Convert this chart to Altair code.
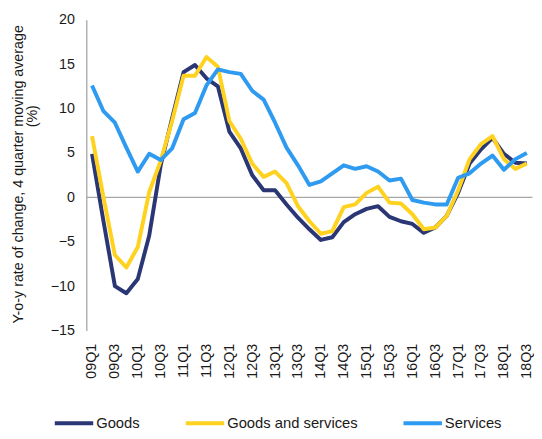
import altair as alt
import pandas as pd

QUARTERS = [
    "09Q1", "09Q2", "09Q3", "09Q4", "10Q1", "10Q2", "10Q3", "10Q4",
    "11Q1", "11Q2", "11Q3", "11Q4", "12Q1", "12Q2", "12Q3", "12Q4",
    "13Q1", "13Q2", "13Q3", "13Q4", "14Q1", "14Q2", "14Q3", "14Q4",
    "15Q1", "15Q2", "15Q3", "15Q4", "16Q1", "16Q2", "16Q3", "16Q4",
    "17Q1", "17Q2", "17Q3", "17Q4", "18Q1", "18Q2", "18Q3",
]
TICK_LABELS = [
    "09Q1", "09Q3", "10Q1", "10Q3", "11Q1", "11Q3", "12Q1", "12Q3",
    "13Q1", "13Q3", "14Q1", "14Q3", "15Q1", "15Q3", "16Q1", "16Q3",
    "17Q1", "17Q3", "18Q1", "18Q3",
]
GOODS = [
    4.9, -2.7, -10.0, -10.8, -9.2, -4.3, 3.6, 8.9,
    14.1, 14.9, 13.4, 12.5, 7.4, 5.5, 2.5, 0.8,
    0.8, -0.8, -2.3, -3.6, -4.8, -4.5, -2.8, -1.9,
    -1.3, -1.0, -2.2, -2.7, -3.0, -4.0, -3.4, -2.1,
    0.5, 3.8, 5.4, 6.7, 4.9, 3.9, 3.8,
]
GOODS_AND_SERVICES = [
    6.9, 0.0, -6.5, -7.9, -5.6, 0.6, 4.1, 8.6,
    13.7, 13.7, 15.8, 14.7, 8.6, 6.6, 3.8, 2.3,
    2.9, 1.6, -1.0, -2.7, -4.1, -3.8, -1.1, -0.8,
    0.5, 1.2, -0.6, -0.7, -1.9, -3.6, -3.4, -2.1,
    0.8, 4.3, 6.0, 6.9, 4.3, 3.2, 3.8,
]
SERVICES = [
    12.6, 9.7, 8.4, 5.6, 2.9, 4.9, 4.2, 5.5,
    8.8, 9.5, 12.6, 14.4, 14.1, 13.9, 12.0, 11.0,
    8.4, 5.6, 3.6, 1.4, 1.8, 2.7, 3.6, 3.2,
    3.5, 2.9, 1.9, 2.1, -0.3, -0.6, -0.8, -0.8,
    2.2, 2.7, 3.8, 4.7, 3.1, 4.3, 5.0,
]
SERIES_NAMES = ["Goods", "Goods and services", "Services"]
COLORS = ["#2B3674", "#FFD21F", "#2E9BF0"]
Y_TICKS = [-15, -10, -5, 0, 5, 10, 15, 20]
Y_TITLE_LINES = ["Y-o-y rate of change, 4 quarter moving average", "(%)"]

rows = []
for name, vals in zip(SERIES_NAMES, [GOODS, GOODS_AND_SERVICES, SERVICES]):
    for q, v in zip(QUARTERS, vals):
        rows.append({"quarter": q, "value": v, "series": name})
df = pd.DataFrame(rows)

FONT = "Liberation Sans"
TXT = "#1a1a1a"
AXIS_GREY = "#A6A6A6"

x_enc = alt.X(
    "quarter:O",
    sort=QUARTERS,
    scale=alt.Scale(type="point", padding=0.5),
    axis=alt.Axis(
        values=TICK_LABELS, title=None, domain=False, ticks=False,
        labelAngle=270, labelPadding=13, labelFontSize=14.5,
        labelColor=TXT, labelFont=FONT,
    ),
)
y_enc = alt.Y(
    "value:Q",
    scale=alt.Scale(domain=[-15, 20], nice=False, zero=False),
    axis=alt.Axis(
        values=Y_TICKS, title=Y_TITLE_LINES[0], titleX=-68.5, titleY=156.5,
        titleAngle=270, titleAlign="center", titleBaseline="middle",
        titleFontSize=14.5, titleFontWeight="normal", titleColor=TXT, titleFont=FONT,
        domainColor=AXIS_GREY, domainWidth=1.3, ticks=False, grid=False,
        labelPadding=12, labelFontSize=14.5, labelColor=TXT, labelFont=FONT,
    ),
)

zero_rule = alt.Chart(pd.DataFrame({"value": [0]})).mark_rule(
    color=AXIS_GREY, strokeWidth=1.3
).encode(y=alt.Y("value:Q"))

lines = alt.Chart(df).mark_line(strokeWidth=4, strokeJoin="round").encode(
    x=x_enc,
    y=y_enc,
    color=alt.Color(
        "series:N",
        sort=SERIES_NAMES,
        scale=alt.Scale(domain=SERIES_NAMES, range=COLORS),
        legend=alt.Legend(
            title=None, orient="none", legendX=-34, legendY=388,
            direction="horizontal", symbolType="stroke", symbolSize=1521,
            symbolStrokeWidth=4, labelOffset=1, labelFontSize=15,
            labelColor=TXT, labelFont=FONT, columnPadding=38,
        ),
    ),
)

pct = alt.Chart(pd.DataFrame({"t": [Y_TITLE_LINES[1]]})).mark_text(
    angle=270, fontSize=14.5, font=FONT, color=TXT, align="center", baseline="middle"
).encode(text="t:N", x=alt.value(-54.5), y=alt.value(98))

chart = alt.layer(zero_rule, lines, pct).properties(
    width=453,
    height=315.5,
    autosize=alt.AutoSizeParams(type="none"),
    padding={"left": 79.5, "top": 8.7, "right": 1.5, "bottom": 98.5},
).configure(font=FONT).configure_view(stroke=None)

chart.save("out.html", embed_options={"renderer": "svg", "actions": False})
